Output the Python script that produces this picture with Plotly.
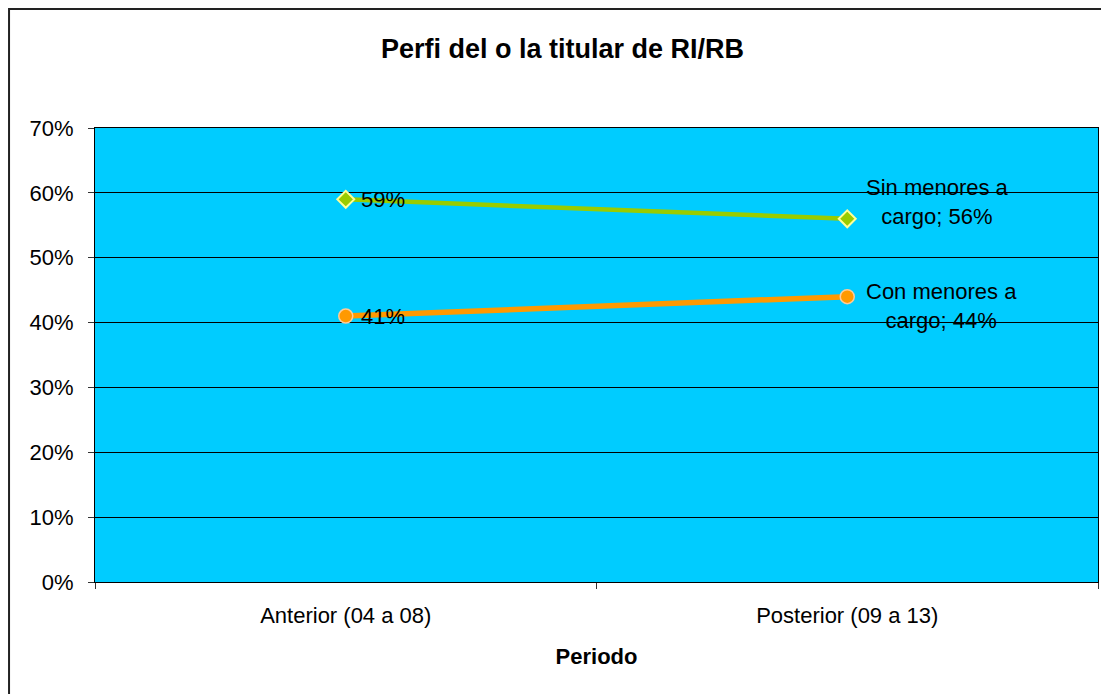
import plotly.graph_objects as go

periodos = ['Anterior (04 a 08)', 'Posterior (09 a 13)']
sin_menores = [0.59, 0.56]
con_menores = [0.41, 0.44]
sin_labels = ['59%', 'Sin menores a<br>cargo; 56%']
con_labels = ['41%', 'Con menores a<br>cargo; 44%']
y_ticks = [0, 0.1, 0.2, 0.3, 0.4, 0.5, 0.6, 0.7]

fig = go.Figure()

fig.add_trace(go.Scatter(
    x=periodos, y=sin_menores, mode='lines+markers',
    line=dict(color='#99CC00', width=4.5),
    marker=dict(symbol='diamond', size=13, color='#99CC00',
                line=dict(color='#FFFF99', width=2)),
    name='Sin menores a cargo'
))
fig.add_trace(go.Scatter(
    x=periodos, y=con_menores, mode='lines+markers',
    line=dict(color='#FF9900', width=5.5),
    marker=dict(symbol='circle', size=14, color='#FF9900',
                line=dict(color='#FFCC99', width=1.5)),
    name='Con menores a cargo'
))

# etiquetas de datos
lbl_font = dict(family='Liberation Sans, Arial', size=22, color='black')
fig.add_annotation(x=periodos[0], y=sin_menores[0], text=sin_labels[0],
                   showarrow=False, xanchor='left', xshift=13, font=lbl_font)
fig.add_annotation(x=periodos[0], y=con_menores[0], text=con_labels[0],
                   showarrow=False, xanchor='left', xshift=13, font=lbl_font)
fig.add_annotation(x=periodos[1], y=sin_menores[1], text=sin_labels[1],
                   showarrow=False, xanchor='left', xshift=17, yshift=17,
                   align='center', font=lbl_font)
fig.add_annotation(x=periodos[1], y=con_menores[1], text=con_labels[1],
                   showarrow=False, xanchor='left', xshift=17, yshift=-9,
                   align='center', font=lbl_font)

# marco exterior del gráfico (borde de la figura)
fig.add_shape(type='rect', xref='paper', yref='paper',
              x0=-0.0857, x1=1.018, y0=-0.262, y1=1.2621,
              line=dict(color='#222222', width=2), fillcolor='rgba(0,0,0,0)',
              layer='below')

fig.update_layout(
    width=1109, height=694,
    margin=dict(l=87, r=19, t=120, b=120),
    paper_bgcolor='white',
    plot_bgcolor='#00CCFF',
    showlegend=False,
    font=dict(family='Liberation Sans, Arial', size=22, color='black'),
    title=dict(text='<b>Perfi del o la titular de RI/RB</b>',
               x=0.5, xref='container', xanchor='center',
               y=0.955, yanchor='top',
               font=dict(size=27)),
    xaxis=dict(
        type='category', range=[-0.5, 1.5], tickson='boundaries',
        ticks='outside', ticklen=6, tickcolor='#333333', showgrid=False,
        showline=True, linecolor='black', linewidth=1, mirror=True,
        automargin=False, ticklabelstandoff=14,
        title=dict(text='<b>Periodo</b>', font=dict(size=22), standoff=21),
    ),
    yaxis=dict(
        range=[0, 0.7], tickvals=y_ticks, tickformat='.0%',
        ticks='outside', ticklen=6, tickcolor='#333333',
        showgrid=True, gridcolor='black', gridwidth=1,
        showline=True, linecolor='black', linewidth=1, mirror=True,
        zeroline=False, automargin=False, ticklabelstandoff=10,
    ),
)

fig.write_html('out.html')
